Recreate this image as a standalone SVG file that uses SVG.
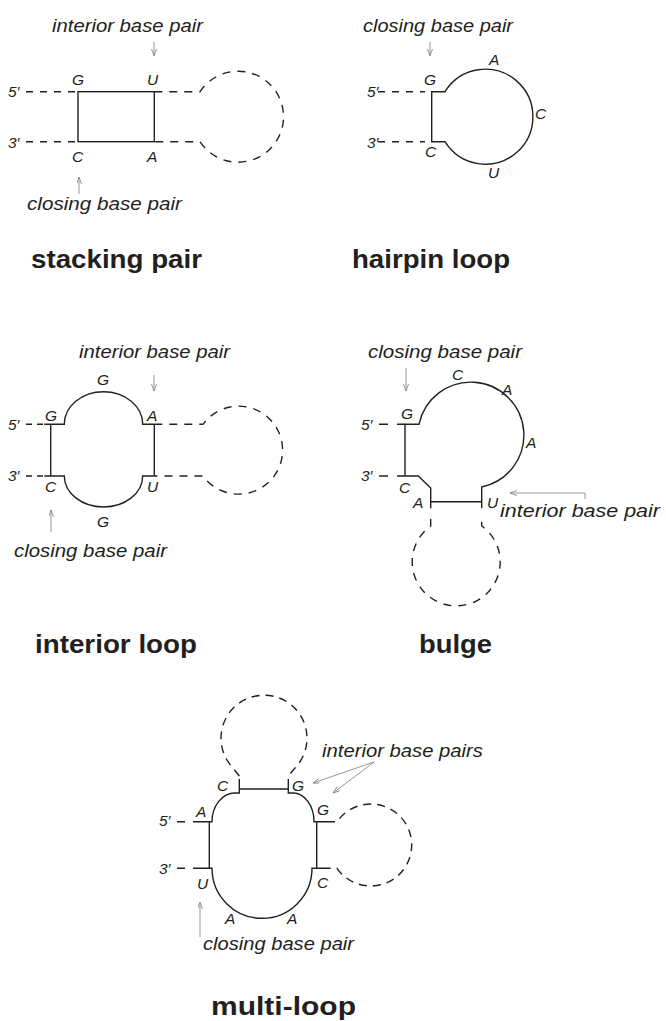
<svg xmlns="http://www.w3.org/2000/svg" width="666" height="1021" viewBox="0 0 666 1021">
<defs>
<style>
.s{fill:none;stroke:#231f20;stroke-width:1.4}
.d{fill:none;stroke:#231f20;stroke-width:1.4;stroke-dasharray:7 7}
.c{fill:none;stroke:#231f20;stroke-width:1.4;stroke-dasharray:8 7}
.b{font-family:"Liberation Sans",Arial,sans-serif;font-style:italic;font-size:15.5px;fill:#231f20}
.l{font-family:"Liberation Sans",Arial,sans-serif;font-style:italic;font-size:18.5px;fill:#231f20}
.t{font-family:"Liberation Sans",Arial,sans-serif;font-weight:bold;font-size:26px;fill:#231f20}
.a{fill:none;stroke:#8a8a8a;stroke-width:0.9;marker-end:url(#ah)}
</style>
<marker id="ah" markerUnits="userSpaceOnUse" markerWidth="10" markerHeight="8" refX="7" refY="2.5" orient="auto">
<path d="M0,0 L7,2.5 L0,5" fill="none" stroke="#8a8a8a" stroke-width="0.9"/>
</marker>
</defs>
<rect width="666" height="1021" fill="#fff"/>

<g id="stacking-pair">
<path class="d" d="M26,91.7 H78 M26,141.7 H78"/>
<rect class="s" x="78" y="91.7" width="76.3" height="50"/>
<path class="c" d="M154.3,91.7 H200 A45.5 45.5 0 1 1 200,141.7 H154.3"/>
<text class="b" x="8" y="97">5′</text>
<text class="b" x="8" y="148">3′</text>
<text class="b" x="72" y="85">G</text>
<text class="b" x="147" y="85">U</text>
<text class="b" x="72" y="162">C</text>
<text class="b" x="147" y="162">A</text>
<text class="l" x="52" y="32" textLength="151" lengthAdjust="spacingAndGlyphs">interior base pair</text>
<text class="l" x="27" y="210" textLength="155" lengthAdjust="spacingAndGlyphs">closing base pair</text>
<text class="t" x="31" y="268" textLength="171" lengthAdjust="spacingAndGlyphs">stacking pair</text>
</g>

<g id="hairpin-loop">
<path class="d" d="M378,91.7 H425 M378,141.7 H425"/>
<path class="s" d="M431.7,141.7 V91.7 H445 A47.5 47.5 0 1 1 445,141.7 Z"/>
<text class="b" x="367" y="97">5′</text>
<text class="b" x="367" y="148">3′</text>
<text class="b" x="424" y="85">G</text>
<text class="b" x="425" y="157">C</text>
<text class="b" x="489" y="65">A</text>
<text class="b" x="535" y="119">C</text>
<text class="b" x="488" y="178">U</text>
<text class="l" x="363" y="32" textLength="150" lengthAdjust="spacingAndGlyphs">closing base pair</text>
<text class="t" x="352" y="268" textLength="158" lengthAdjust="spacingAndGlyphs">hairpin loop</text>
</g>

<g id="interior-loop">
<path class="d" d="M26,424.3 H44 M26,476 H44" style="stroke-dasharray:6 5"/>
<path class="s" d="M44.3,424.3 H64.3 A39.2 32.5 0 0 1 142.7,424.3 H154.3 M44.3,476 H64.3 A39.2 31 0 0 0 142.7,476 H154.3 M50.7,424.3 V476 M154.3,424.3 V476"/>
<path class="c" d="M154.3,424.3 H203 A44 44 0 1 1 203,476 H154.3"/>
<text class="b" x="8" y="430">5′</text>
<text class="b" x="8" y="481">3′</text>
<text class="b" x="45" y="421">G</text>
<text class="b" x="147" y="421">A</text>
<text class="b" x="45" y="492">C</text>
<text class="b" x="147" y="492">U</text>
<text class="b" x="97" y="385">G</text>
<text class="b" x="97" y="527">G</text>
<text class="l" x="79" y="358" textLength="151" lengthAdjust="spacingAndGlyphs">interior base pair</text>
<text class="l" x="14" y="557" textLength="153" lengthAdjust="spacingAndGlyphs">closing base pair</text>
<text class="t" x="35" y="653" textLength="162" lengthAdjust="spacingAndGlyphs">interior loop</text>
</g>

<g id="bulge">
<path class="s" d="M379,424.3 H388 M379,476 H388"/>
<path class="s" d="M397,424.3 H419 A53 53 0 1 1 481.7,487 V508.3 M405,424.3 V476 M397,476 H418.3 L430.7,488 V508.3 M430.7,501.7 H481.7"/>
<path class="c" d="M430.7,519 V526 A44 44 0 1 0 481.7,526 V519"/>
<text class="b" x="361" y="430">5′</text>
<text class="b" x="361" y="481">3′</text>
<text class="b" x="401" y="419">G</text>
<text class="b" x="399" y="493">C</text>
<text class="b" x="413" y="508">A</text>
<text class="b" x="487" y="508">U</text>
<text class="b" x="452" y="380">C</text>
<text class="b" x="502" y="395">A</text>
<text class="b" x="526" y="448">A</text>
<text class="l" x="368" y="358" textLength="154" lengthAdjust="spacingAndGlyphs">closing base pair</text>
<text class="l" x="500" y="517" textLength="160" lengthAdjust="spacingAndGlyphs">interior base pair</text>
<text class="t" x="419" y="653" textLength="73" lengthAdjust="spacingAndGlyphs">bulge</text>
</g>

<g id="multi-loop">
<path class="s" d="M177,821.7 H185 M177,868.3 H185"/>
<path class="s" d="M193,821.7 H212 A23 28.7 0 0 1 235,793 H239.3 V779 M209.3,821.7 V868.3 M193,868.3 H212 A50 50 0 0 0 312,868.3 H327 M239.3,789 H288.3 M288.3,779 V793 H293 A21 28.7 0 0 1 314,821.7 H327 M316.7,821.7 V868.3"/>
<path class="c" d="M239.3,776 L233,768 A43 43 0 1 1 295,768 L288.3,776" style="stroke-dasharray:8 6"/>
<path class="c" d="M327,821.7 H337 A41 41 0 1 1 337,868.3 H327" style="stroke-dasharray:8 6"/>
<text class="b" x="159" y="826">5′</text>
<text class="b" x="159" y="874">3′</text>
<text class="b" x="196" y="817">A</text>
<text class="b" x="217" y="791">C</text>
<text class="b" x="292" y="791">G</text>
<text class="b" x="317" y="815">G</text>
<text class="b" x="197" y="889">U</text>
<text class="b" x="317" y="888">C</text>
<text class="b" x="225" y="924">A</text>
<text class="b" x="287" y="924">A</text>
<text class="l" x="322" y="757" textLength="161" lengthAdjust="spacingAndGlyphs">interior base pairs</text>
<text class="l" x="203" y="950" textLength="151" lengthAdjust="spacingAndGlyphs">closing base pair</text>
<text class="t" x="211" y="1015" textLength="145" lengthAdjust="spacingAndGlyphs">multi-loop</text>
</g>

<g id="connectors">
<path class="a" d="M154,42 V56"/>
<path class="a" d="M79,194 V177"/>
<path class="a" d="M430,42 V56"/>
<path class="a" d="M154,375 V391"/>
<path class="a" d="M51,532 V510"/>
<path class="a" d="M406,368 V391"/>
<path class="a" d="M585,499 V493 H510"/>
<path class="a" d="M374,762 L313,783"/>
<path class="a" d="M374,762 L333,793"/>
<path class="a" d="M200,937 V902"/>
</g>
</svg>
